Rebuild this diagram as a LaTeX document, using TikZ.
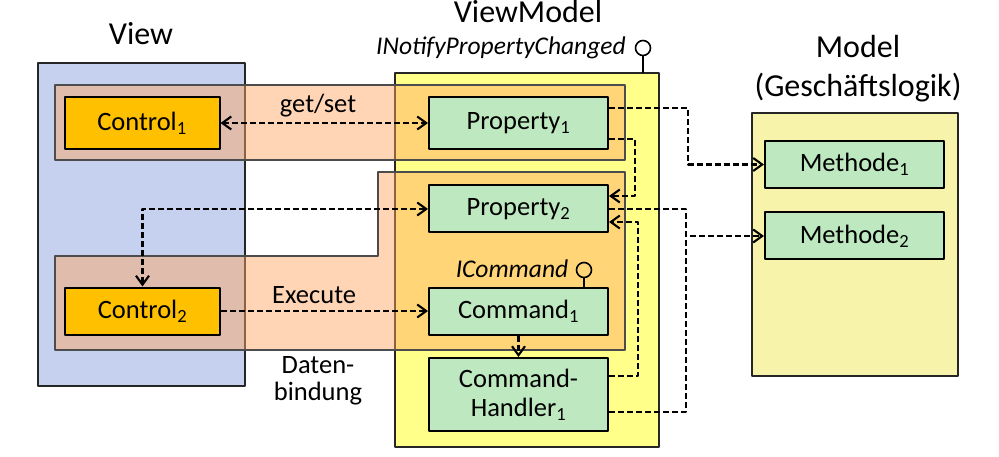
\documentclass[tikz,border=0pt]{standalone}
\usepackage{fontspec}
\setmainfont{Carlito}
\usetikzlibrary{arrows.meta,positioning}

\definecolor{viewblue}{RGB}{198,209,240}
\definecolor{vmyellow}{RGB}{255,255,138}
\definecolor{modelyellow}{RGB}{247,243,170}
\definecolor{ctrlorange}{RGB}{255,192,0}
\definecolor{propgreen}{RGB}{190,232,192}
\definecolor{bandorange}{RGB}{255,166,98}

\begin{document}
\begin{tikzpicture}[
        x = 1pt, y = -1pt,
        line join=round,
        >={Straight Barb[length=9pt,width=13pt]},
        every node/.style = {font=\fontsize{26.5}{30}\selectfont},
        area/.style = {draw=black!85, line width=1.4pt},
        band/.style = {draw=black!70, line width=1.6pt, fill=bandorange, fill opacity=0.47},
        box/.style = {draw=black, line width=2pt, minimum width=179pt, minimum height=47pt, inner sep=0pt},
        ctrlbox/.style = {box, fill=ctrlorange, minimum width=155pt},
        greenbox/.style = {box, fill=propgreen},
        conn/.style = {line width=2.1pt, dash pattern=on 6pt off 3pt},
        title/.style = {font=\fontsize{32}{38}\selectfont, anchor=base},
        iface/.style = {font=\fontsize{25.5}{30}\selectfont\itshape, anchor=base}
    ]

    \useasboundingbox (0,0) rectangle (999,457);

    % the three layers
    \draw[area, fill=viewblue] (38,63) rectangle (245,386);
    \draw[area, fill=vmyellow] (395,73) rectangle (659,447);
    \draw[area, fill=modelyellow] (752,113) rectangle (958,376);

    \node[title] (viewtitle) at (141,45) {View};
    \node[title] (vmtitle) at (528,23) {ViewModel};
    \node[title] (modeltitle) at (858,58) {Model};
    \node[title] (modelsub) at (858,97) {(Geschäftslogik)};

    % data bindings
    \draw[band] (55,85) rectangle (625,160);
    \draw[band] (378,172) -- (625,172) -- (625,350) -- (55,350) -- (55,256) -- (378,256) -- cycle;

    % interfaces
    \node[iface] (inotify) at (501,55) {INotifyPropertyChanged};
    \draw[line width=1.6pt] (643,73) -- (643,56);
    \draw[line width=1.6pt] (643,48) circle[radius=7.5pt];
    \node[iface] (icmd) at (512,277) {ICommand};
    \draw[line width=1.6pt] (584,288) -- (584,278);
    \draw[line width=1.6pt] (584,270) circle[radius=7.5pt];

    \node[ctrlbox, minimum height=52pt] (control1) at (142,123) {Control\textsubscript{1}};
    \node[ctrlbox] (control2) at (142.5,311) {Control\textsubscript{2}};

    \node[greenbox, minimum height=52pt] (property1) at (518.5,123) {Property\textsubscript{1}};
    \node[greenbox] (property2) at (518.5,209) {Property\textsubscript{2}};
    \node[greenbox] (command1) at (518.5,311) {Command\textsubscript{1}};
    \node[greenbox, minimum height=73pt, align=center, font=\fontsize{26.5}{29}\selectfont] (handler1) at (518.5,394.5) {Command-\\Handler\textsubscript{1}};

    \node[greenbox] (methode1) at (854.5,164.5) {Methode\textsubscript{1}};
    \node[greenbox] (methode2) at (854.5,236) {Methode\textsubscript{2}};

    \node[align=center, font=\fontsize{26.5}{27}\selectfont] (binding) at (318,381) {Daten-\\bindung};

    \coordinate (m2in) at ([xshift=-78pt]methode2.west);

    % connectors
    \draw[conn, <->] (control1) -- (property1) node[pos=0.47, anchor=base, yshift=10pt] {get/set};
    \draw[conn, ->] (control2) -- (command1) node[pos=0.45, anchor=base, yshift=8pt] {Execute};
    \draw[conn, <->] (property2.west) -| (control2.north);
    \draw[conn, ->] (command1) -- (handler1);

    \draw[conn, ->] ([yshift=15pt]property1.east) -- ++(79,0) |- (methode1);
    \draw[conn, ->] ([yshift=-16pt]property1.east) -- ++(26,0) |- ([yshift=13pt]property2.east);
    \draw[conn, ->] (property2.east) -| (m2in) -- (methode2);
    \draw[conn] ([yshift=-17.5pt]handler1.east) -| (m2in);
    \draw[conn, ->] ([yshift=18.5pt]handler1.east) -- ++(29,0) |- ([yshift=-13pt]property2.east);
\end{tikzpicture}
\end{document}
